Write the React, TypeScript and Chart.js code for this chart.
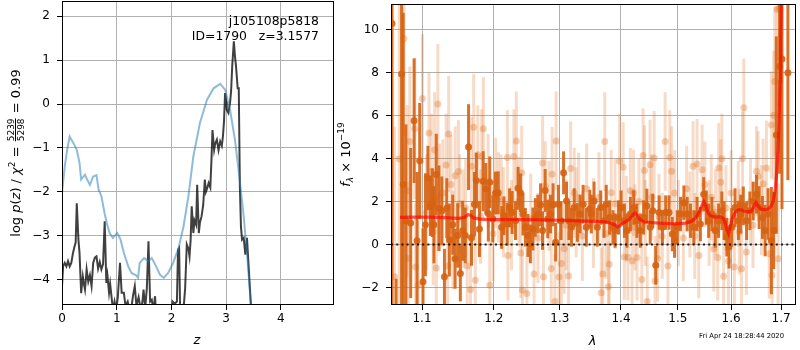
import React, { useEffect, useRef } from "react";
import { Chart, registerables } from "chart.js";

Chart.register(...registerables);

const FONT = "DejaVu Sans";

// ---------------- Left panel: redshift probability ----------------
const Z_TICKS = [0, 1, 2, 3, 4];
const LOGP_TICKS = [-4, -3, -2, -1, 0, 1, 2];

const PRIOR_Z = [0, 0.05, 0.1, 0.14, 0.17, 0.21, 0.27, 0.32, 0.35, 0.42, 0.46, 0.51, 0.57, 0.63, 0.67, 0.72, 0.78, 0.82, 0.87, 0.93, 1.01, 1.07, 1.13, 1.21, 1.27, 1.36, 1.39, 1.42, 1.5, 1.58, 1.64, 1.72, 1.79, 1.86, 1.94, 2.03, 2.13, 2.22, 2.31, 2.4, 2.52, 2.65, 2.77, 2.89, 2.98, 3.07, 3.16, 3.24, 3.32, 3.39, 3.45, 3.5];
const PRIOR_LOGP = [-2.03, -1.42, -1.0, -0.74, -0.81, -0.89, -1.04, -1.34, -1.72, -1.61, -1.72, -1.84, -1.65, -1.62, -1.95, -2.1, -2.5, -2.72, -2.94, -3.05, -2.94, -3.09, -3.39, -3.7, -3.85, -3.91, -3.96, -3.62, -3.51, -3.58, -3.51, -3.7, -3.89, -3.96, -3.85, -3.62, -3.28, -2.79, -2.1, -1.19, -0.43, 0.1, 0.36, 0.46, 0.33, -0.13, -0.81, -1.65, -2.56, -3.55, -4.55, -5.3];

const PZ_Z = [0, 0.02, 0.05, 0.08, 0.11, 0.14, 0.17, 0.2, 0.23, 0.25, 0.27, 0.3, 0.32, 0.35, 0.38, 0.4, 0.42, 0.45, 0.48, 0.51, 0.54, 0.57, 0.6, 0.63, 0.66, 0.69, 0.72, 0.75, 0.78, 0.81, 0.83, 0.86, 0.88, 0.91, 0.93, 0.96, 0.99, 1.02, 1.06, 1.09, 1.13, 1.16, 1.2, 1.25, 1.3, 1.33, 1.36, 1.4, 1.44, 1.47, 1.49, 1.52, 1.55, 1.58, 1.61, 1.64, 1.67, 1.7, 1.73, 1.85, 1.98, 2.02, 2.06, 2.1, 2.12, 2.14, 2.16, 2.2, 2.25, 2.28, 2.31, 2.33, 2.35, 2.37, 2.4, 2.42, 2.45, 2.47, 2.5, 2.52, 2.55, 2.58, 2.61, 2.63, 2.65, 2.68, 2.71, 2.73, 2.75, 2.78, 2.8, 2.83, 2.86, 2.89, 2.92, 2.94, 2.96, 2.98, 3.0, 3.01, 3.04, 3.07, 3.09, 3.11, 3.14, 3.16, 3.18, 3.21, 3.23, 3.25, 3.27, 3.29, 3.32, 3.35, 3.38, 3.41, 3.45, 3.48];
const PZ_LOGP = [-4.15, -3.7, -3.62, -3.7, -3.58, -3.7, -3.62, -3.4, -3.24, -3.15, -2.26, -3.09, -3.39, -4.31, -3.93, -4.1, -4.23, -3.77, -4.05, -3.9, -4.15, -3.62, -3.5, -3.47, -3.75, -3.6, -3.77, -3.65, -2.67, -4.08, -3.9, -4.3, -4.1, -4.45, -4.7, -4.5, -4.7, -4.4, -3.62, -4.3, -4.3, -4.6, -4.5, -4.8, -4.35, -4.15, -4.6, -4.4, -4.7, -4.5, -4.23, -4.65, -4.2, -3.13, -4.5, -4.46, -4.7, -4.38, -5.0, -5.2, -5.2, -4.5, -4.55, -4.5, -3.32, -3.28, -4.8, -5.0, -4.2, -3.2, -3.3, -3.47, -3.1, -2.33, -2.94, -2.65, -2.75, -1.84, -2.94, -2.7, -2.56, -2.3, -1.72, -2.0, -1.93, -1.8, -1.9, -1.3, -0.59, -1.04, -0.9, -0.81, -1.05, -0.85, -0.95, -0.74, -0.4, 0.25, 0.05, -0.13, -0.2, 0.02, 0.3, 0.86, 1.43, 1.1, 0.86, 0.36, 0.36, -1.88, -2.8, -3.09, -3.05, -3.43, -3.05, -3.7, -4.55, -5.2];

// ---------------- Right panel: spectrum ----------------
const LAM_TICKS = [1.1, 1.2, 1.3, 1.4, 1.5, 1.6, 1.7];
const FLUX_TICKS = [-2, 0, 2, 4, 6, 8, 10];

const MODEL_LAM = [1.071, 1.09, 1.11, 1.13, 1.15, 1.158, 1.163, 1.167, 1.171, 1.18, 1.192, 1.22, 1.245, 1.27, 1.299, 1.33, 1.357, 1.372, 1.38, 1.389, 1.394, 1.399, 1.405, 1.414, 1.42, 1.424, 1.428, 1.433, 1.44, 1.466, 1.496, 1.514, 1.525, 1.533, 1.54, 1.544, 1.548, 1.551, 1.555, 1.56, 1.568, 1.579, 1.584, 1.588, 1.592, 1.595, 1.598, 1.602, 1.608, 1.614, 1.619, 1.625, 1.634, 1.64, 1.645, 1.649, 1.653, 1.658, 1.666, 1.674, 1.68, 1.684, 1.688, 1.691, 1.694, 1.696, 1.698, 1.699, 1.7005];
const MODEL_FLUX = [1.26, 1.28, 1.28, 1.25, 1.22, 1.26, 1.4, 1.36, 1.24, 1.18, 1.16, 1.16, 1.16, 1.15, 1.13, 1.1, 1.08, 1.06, 1.02, 0.92, 0.82, 0.88, 1.02, 1.17, 1.36, 1.48, 1.35, 1.15, 1.05, 1.0, 0.96, 1.0, 1.08, 1.25, 1.55, 1.8, 2.0, 1.85, 1.52, 1.34, 1.28, 1.3, 1.24, 1.05, 0.65, 0.5, 0.8, 1.2, 1.5, 1.62, 1.62, 1.56, 1.52, 1.56, 1.78, 1.95, 1.8, 1.66, 1.62, 1.66, 1.8, 2.05, 2.6, 3.4, 4.5, 6.0, 7.6, 9.5, 11.6];

const SPEC_A_LAM = [1.0607, 1.066, 1.0731, 1.0752, 1.0787, 1.085, 1.0895, 1.0934, 1.0969, 1.1013, 1.1045, 1.1079, 1.1111, 1.1138, 1.116, 1.1192, 1.1227, 1.1267, 1.1303, 1.1335, 1.1371, 1.1417, 1.145, 1.1486, 1.1523, 1.1555, 1.1592, 1.1638, 1.168, 1.1722, 1.175, 1.1793, 1.1846, 1.1884, 1.1921, 1.1941, 1.1985, 1.2025, 1.2065, 1.2115, 1.2149, 1.2196, 1.2232, 1.227, 1.232, 1.2358, 1.2394, 1.2432, 1.2468, 1.2507, 1.2543, 1.2582, 1.2619, 1.2658, 1.27, 1.273, 1.2771, 1.2811, 1.2853, 1.2894, 1.2934, 1.2977, 1.3019, 1.3059, 1.3106, 1.3144, 1.3185, 1.3228, 1.328, 1.3324, 1.3372, 1.3424, 1.348, 1.3506, 1.3551, 1.3604, 1.366, 1.3715, 1.3752, 1.3808, 1.3864, 1.3901, 1.3958, 1.4002, 1.4059, 1.4103, 1.4161, 1.4218, 1.4273, 1.4332, 1.4389, 1.4446, 1.4505, 1.455, 1.4603, 1.4663, 1.4721, 1.4779, 1.484, 1.4899, 1.494, 1.499, 1.5048, 1.511, 1.517, 1.5231, 1.5292, 1.5353, 1.5415, 1.5477, 1.5526, 1.557, 1.5632, 1.5695, 1.5758, 1.5821, 1.5865, 1.5916, 1.596, 1.6012, 1.6076, 1.6141, 1.6186, 1.6238, 1.6303, 1.6368, 1.6434, 1.65, 1.6553, 1.6619, 1.6672, 1.6733, 1.68, 1.6847, 1.6901, 1.6969, 1.7017, 1.714];
const SPEC_A_FLUX = [10.3, -3.2, 7.95, 2.8, 1.1, 1.0, 5.77, 0.18, 3.9, -1.74, 0.92, 3.1, 1.8, 1.95, 0.92, 3.26, 1.69, 1.57, -1.5, 1.69, 0.21, 0.92, -0.66, 0.42, -1.35, 0.64, 0.42, 4.54, 0.31, 1.88, 2.98, 0.72, 2.95, 2.6, 1.44, 2.9, 1.2, 2.4, 2.41, 0.8, 1.34, 0.95, 1.72, 1.49, 1.11, 2.62, 2.41, 1.42, 0.8, 0.42, 0.03, 0.72, 1.26, 1.42, 1.85, 0.65, 2.52, 1.19, 1.42, 1.85, 0.11, 1.88, 1.11, 3.34, 2.03, 1.11, 0.8, 1.72, 1.03, 1.42, 1.88, 0.8, 1.65, 1.42, 2.03, 0.8, 1.72, 1.11, 1.88, 1.26, 0.8, 0.65, 1.26, 1.72, 1.11, 0.65, 1.42, 1.72, 1.11, 0.65, 1.26, 1.8, 0.8, 1.57, -0.97, 1.49, 0.8, 1.49, 1.49, 0.49, 0.18, 0.8, 1.42, 1.95, 1.42, 1.11, 0.8, 1.42, 0.95, 2.34, 1.72, 1.11, 1.42, 0.65, 1.11, 1.57, 1.11, 0.34, -0.12, 0.8, 1.72, 1.11, 1.42, 1.8, 1.11, 1.57, 2.03, 2.34, 1.72, 1.26, 0.65, 1.42, 0.18, 0.65, 5.1, 8.3, 8.65, 8.0];
const SPEC_A_ERR = [14, 1.6, 14, 8, 4.5, 3.5, 2.9, 3.2, 2.7, 2.5, 2.4, 1.5, 1.4, 1.6, 1.8, 1.9, 2.0, 1.6, 1.3, 1.4, 1.7, 1.4, 1.4, 1.5, 1.3, 1.4, 1.3, 2.0, 1.3, 1.5, 1.3, 1.3, 1.4, 1.2, 1.3, 1.2, 1.1, 1.0, 1.0, 1.0, 0.9, 1.0, 0.9, 1.0, 0.9, 1.0, 0.9, 1.0, 0.9, 1.0, 0.9, 1.0, 0.9, 0.9, 1.0, 0.9, 1.0, 0.9, 0.9, 1.0, 0.9, 0.9, 0.9, 1.0, 0.9, 0.9, 0.9, 0.9, 0.9, 0.9, 0.9, 0.9, 0.9, 0.9, 0.9, 0.9, 0.8, 0.8, 0.9, 0.8, 0.8, 0.8, 0.8, 0.8, 0.8, 0.8, 0.8, 0.8, 0.8, 0.8, 0.8, 0.8, 0.8, 0.8, 0.9, 0.8, 0.8, 0.8, 0.8, 0.8, 0.8, 0.8, 0.8, 0.8, 0.8, 0.8, 0.8, 0.8, 0.8, 0.8, 0.8, 0.8, 0.8, 0.8, 0.8, 0.9, 0.9, 0.9, 1.0, 0.9, 0.9, 0.9, 0.9, 0.9, 0.9, 0.9, 0.9, 0.9, 1.0, 1.0, 1.2, 1.2, 2.5, 1.8, 4.6, 5.0, 7.0, 5.0];

const SPEC_B_LAM = [1.064, 1.07, 1.0761, 1.0804, 1.0817, 1.0839, 1.0904, 1.0915, 1.0947, 1.1005, 1.106, 1.1093, 1.1125, 1.115, 1.1169, 1.1192, 1.1213, 1.1236, 1.128, 1.1326, 1.1347, 1.1361, 1.1393, 1.142, 1.1451, 1.1496, 1.1515, 1.156, 1.1597, 1.1619, 1.1666, 1.1679, 1.1711, 1.1734, 1.177, 1.181, 1.1825, 1.1849, 1.1918, 1.1941, 1.199, 1.2027, 1.2067, 1.2107, 1.214, 1.2199, 1.2208, 1.226, 1.2296, 1.2332, 1.237, 1.2399, 1.2413, 1.2423, 1.249, 1.255, 1.26, 1.266, 1.2732, 1.2745, 1.2772, 1.283, 1.2865, 1.2879, 1.2923, 1.2941, 1.2987, 1.3024, 1.3069, 1.31, 1.3138, 1.3171, 1.323, 1.326, 1.33, 1.336, 1.343, 1.354, 1.363, 1.367, 1.3695, 1.3727, 1.375, 1.3788, 1.3802, 1.3835, 1.39, 1.3976, 1.4037, 1.4057, 1.409, 1.4119, 1.416, 1.419, 1.4214, 1.424, 1.4275, 1.431, 1.4358, 1.4381, 1.4405, 1.442, 1.4453, 1.4503, 1.453, 1.4575, 1.459, 1.4635, 1.466, 1.472, 1.477, 1.482, 1.4853, 1.4887, 1.494, 1.501, 1.51, 1.516, 1.522, 1.5278, 1.531, 1.5353, 1.5385, 1.5447, 1.55, 1.558, 1.562, 1.5667, 1.57, 1.5742, 1.5761, 1.58, 1.5821, 1.5854, 1.59, 1.5948, 1.6, 1.6063, 1.614, 1.616, 1.6203, 1.6222, 1.6248, 1.63, 1.638, 1.643, 1.65, 1.6533, 1.66, 1.6633, 1.67, 1.6756, 1.68, 1.6815, 1.685, 1.687, 1.6918, 1.6938, 1.6965];
const SPEC_B_FLUX = [-1.5, 4.0, 9.6, 2.5, -0.65, 4.8, 5.4, -1.05, -1.9, 6.8, 1.5, 5.2, 3.4, 0.6, 4.4, -1.1, 6.55, 2.2, 2.4, 3.7, -1.0, 5.15, 2.8, 0.2, 3.2, 3.4, 1.9, 1.2, 1.7, -1.0, -2.1, 3.65, 5.46, -1.67, 4.18, 1.3, 4.1, 5.4, 2.95, -1.9, 0.5, 2.87, 2.2, 2.0, 1.5, 4.06, -0.51, 0.9, 4.1, 4.83, 2.0, -0.4, 3.34, -2.12, -2.28, 1.2, -1.38, 0.3, 3.8, -1.5, 2.72, 1.8, -1.12, 3.28, -2.66, 4.83, -1.51, -0.89, -0.2, 0.9, -1.47, 3.54, 2.41, 1.5, 2.18, 0.4, 2.6, 1.0, 2.2, -2.25, -1.38, 4.8, 0.5, -1.97, -0.92, 2.41, 1.9, 3.88, 3.6, -0.58, 1.2, -0.6, 2.5, -0.77, 2.41, 0.8, -0.61, 2.0, -1.63, 4.15, 3.45, 1.0, -2.66, 3.72, 2.2, 4.03, -1.7, -0.66, 1.3, 0.4, 4.8, -1.0, 4.06, 3.41, 2.4, 1.0, 0.3, 2.6, 1.4, 3.65, 0.4, 3.75, -0.51, 3.49, 2.8, 1.0, 2.2, -0.2, 1.5, -0.61, 3.57, 2.9, 4.0, -1.48, 1.7, -0.77, 2.4, -1.05, 1.9, 0.6, -1.13, 4.0, 6.37, -0.35, 2.0, 0.9, 3.41, 3.18, 1.6, 2.83, 3.57, -0.43, 5.57, -1.43, 6.03, 7.6, 10.95, -0.66, 11.0];
const SPEC_B_ERR = [7.0, 8.0, 4.5, 4.0, 3.6, 3.5, 3.3, 3.0, 3.0, 3.0, 2.7, 2.8, 2.7, 2.5, 2.7, 2.5, 2.8, 2.5, 2.5, 2.4, 2.5, 2.7, 2.3, 2.3, 2.3, 2.4, 2.3, 2.3, 2.3, 2.4, 2.3, 2.3, 2.5, 2.3, 2.3, 2.2, 2.2, 2.4, 2.2, 2.2, 2.2, 2.1, 2.1, 2.2, 2.1, 2.2, 2.1, 2.1, 2.2, 2.3, 2.1, 2.1, 2.2, 2.1, 2.1, 2.1, 2.2, 2.1, 2.2, 2.1, 2.1, 2.1, 2.2, 2.2, 2.2, 2.3, 2.1, 2.1, 2.1, 2.1, 2.1, 2.2, 2.1, 2.1, 2.1, 2.1, 2.1, 2.1, 2.1, 2.1, 2.1, 2.3, 2.1, 2.1, 2.1, 2.0, 2.1, 2.2, 2.1, 2.0, 2.0, 2.0, 2.0, 2.0, 2.0, 2.0, 2.0, 2.0, 2.1, 2.2, 2.1, 2.0, 2.1, 2.1, 2.0, 2.2, 2.1, 2.0, 2.0, 2.0, 2.3, 2.0, 2.2, 2.1, 2.0, 2.0, 2.0, 2.0, 2.0, 2.1, 2.0, 2.1, 2.0, 2.1, 2.0, 2.0, 2.0, 2.0, 2.0, 2.0, 2.1, 2.0, 2.1, 2.1, 2.0, 2.0, 2.0, 2.0, 2.0, 2.0, 2.0, 2.2, 2.3, 2.0, 2.0, 2.0, 2.1, 2.1, 2.1, 2.1, 2.2, 2.1, 2.5, 3.0, 3.0, 3.5, 4.5, 3.5, 4.5];

// axis ranges
const Z_MIN = 0;
const Z_MAX = 4.97;
const LOGP_MIN = -4.58;
const LOGP_MAX = 2.35;
const LAM_MIN = 1.0594;
const LAM_MAX = 1.7309;
const FLUX_MIN = -2.82;
const FLUX_MAX = 11.21;

const ORANGE_DARK = "rgba(214,98,18,0.9)";
const ORANGE_LIGHT_BAR = "rgba(222,110,30,0.25)";
const ORANGE_LIGHT_PT = "rgba(222,110,30,0.33)";

const pts = (xs: number[], ys: number[]) => xs.map((x, i) => ({ x, y: ys[i] }));
const fmt = (v: number, d: number) => (d ? v.toFixed(d) : String(Math.round(v))).replace("-", "\u2212");
const zeroPad = (s: any) => {
  s.paddingLeft = 0;
  s.paddingRight = 0;
  s.paddingTop = 0;
  s.paddingBottom = 0;
};

const gridCfg = { color: "#b0b0b0", lineWidth: 1, tickColor: "#000", tickLength: 5, drawTicks: true };
const tickFont = { family: FONT, size: 12 };

type Seg = { t: string; f: string; dy?: number } | { num: string; den: string; f: string; bar: number; nb: number; db: number };

function drawRich(ctx: CanvasRenderingContext2D, segs: Seg[], x: number, y: number, rot: number) {
  ctx.save();
  ctx.translate(x, y);
  ctx.rotate(rot);
  ctx.fillStyle = "#000";
  ctx.textBaseline = "alphabetic";
  ctx.textAlign = "left";
  const widths = segs.map((s: any) => {
    ctx.font = s.f;
    if (s.t !== undefined) return ctx.measureText(s.t).width;
    return Math.max(ctx.measureText(s.num).width, ctx.measureText(s.den).width) + 2;
  });
  const total = widths.reduce((a, b) => a + b, 0);
  let cx = -total / 2;
  segs.forEach((s: any, i) => {
    ctx.font = s.f;
    if (s.t !== undefined) {
      ctx.fillText(s.t, cx, s.dy || 0);
    } else {
      const w = widths[i];
      ctx.textAlign = "center";
      ctx.fillText(s.num, cx + w / 2, s.nb);
      ctx.fillText(s.den, cx + w / 2, s.db);
      ctx.textAlign = "left";
      ctx.fillRect(cx + 1, s.bar - 0.5, w - 2, 1);
    }
    cx += widths[i];
  });
  ctx.restore();
}

function drawFrame(ctx: CanvasRenderingContext2D, a: any) {
  ctx.save();
  ctx.strokeStyle = "#000";
  ctx.lineWidth = 1;
  ctx.strokeRect(a.left + 0.5, a.top + 0.5, a.right - a.left - 1, a.bottom - a.top - 1);
  ctx.restore();
}

const errorBarPlugin = {
  id: "errorBars",
  beforeDatasetDraw(chart: any, args: any) {
    const ds = chart.data.datasets[args.index];
    if (!ds.errors) return;
    const { ctx, chartArea: a, scales } = chart;
    ctx.save();
    ctx.beginPath();
    ctx.rect(a.left, a.top, a.right - a.left, a.bottom - a.top);
    ctx.clip();
    ctx.strokeStyle = ds.errColor;
    ctx.lineWidth = ds.errWidth;
    ds.data.forEach((p: any, i: number) => {
      const e = ds.errors[i];
      const x = scales.x.getPixelForValue(p.x);
      const y1 = scales.y.getPixelForValue(Math.max(p.y - e, FLUX_MIN - 5));
      const y2 = scales.y.getPixelForValue(Math.min(p.y + e, FLUX_MAX + 5));
      ctx.beginPath();
      ctx.moveTo(x, y1);
      ctx.lineTo(x, y2);
      ctx.stroke();
    });
    ctx.restore();
  },
};

const leftDecor = {
  id: "leftDecor",
  afterDatasetsDraw(chart: any) {
    const { ctx, chartArea: a } = chart;
    drawFrame(ctx, a);
    ctx.save();
    ctx.fillStyle = "#000";
    ctx.font = `12.4px ${FONT}`;
    ctx.textAlign = "right";
    ctx.textBaseline = "alphabetic";
    ctx.fillText("j105108p5818", a.right - 15, a.top + 23.5);
    ctx.fillText("ID=1790   z=3.1577", a.right - 15, a.top + 38.5);
    ctx.restore();
  },
  afterDraw(chart: any) {
    const { ctx, chartArea: a } = chart;
    const m = `13px ${FONT}`;
    const it = `italic 13px ${FONT}`;
    const sm = `9px ${FONT}`;
    drawRich(ctx, [{ t: "z", f: it }], (a.left + a.right) / 2 - 1, 344, 0);
    drawRich(
      ctx,
      [
        { t: "log ", f: m },
        { t: "p", f: it },
        { t: "(", f: m },
        { t: "z", f: it },
        { t: ") / ", f: m },
        { t: "\u03c7", f: it },
        { t: "2", f: sm, dy: -5.5 },
        { t: " = ", f: m },
        { num: "5239", den: "5298", f: sm, bar: -4.5, nb: -6.5, db: 4 },
        { t: " = 0.99", f: m },
      ],
      20,
      (a.top + a.bottom) / 2,
      -Math.PI / 2
    );
  },
};

const rightDecor = {
  id: "rightDecor",
  afterDatasetsDraw(chart: any) {
    drawFrame(chart.ctx, chart.chartArea);
  },
  afterDraw(chart: any) {
    const { ctx, chartArea: a } = chart;
    const m = `13px ${FONT}`;
    const it = `italic 13px ${FONT}`;
    const sm = `9px ${FONT}`;
    const smi = `italic 9px ${FONT}`;
    drawRich(ctx, [{ t: "\u03bb", f: it }], (a.left + a.right) / 2 - 1, 345, 0);
    drawRich(
      ctx,
      [
        { t: "f", f: it },
        { t: "\u03bb", f: smi, dy: 3 },
        { t: " \u00d7 10", f: m },
        { t: "\u221219", f: sm, dy: -6 },
      ],
      14,
      (a.top + a.bottom) / 2,
      -Math.PI / 2
    );
    ctx.save();
    ctx.fillStyle = "#000";
    ctx.font = `6.8px ${FONT}`;
    ctx.textAlign = "right";
    ctx.textBaseline = "alphabetic";
    ctx.fillText("Fri Apr 24 18:28:44 2020", a.right - 12, 337.5);
    ctx.restore();
  },
};

function axisCfg(min: number, max: number, ticks: number[], digits: number, fit: (s: any) => void, type = "linear") {
  return {
    type,
    bounds: "data",
    min,
    max,
    afterBuildTicks: (s: any) => {
      s.ticks = ticks.map((v) => ({ value: v }));
    },
    afterFit: (s: any) => {
      fit(s);
      zeroPad(s);
    },
    grid: gridCfg,
    border: { display: false },
    ticks: {
      font: tickFont,
      color: "#000",
      padding: 7,
      maxRotation: 0,
      minRotation: 0,
      autoSkip: false,
      callback: (v: any) => fmt(Number(v), digits),
    },
  };
}

function LeftPanel() {
  const ref = useRef<HTMLCanvasElement>(null);
  useEffect(() => {
    const xAxis: any = axisCfg(Z_MIN, Z_MAX, Z_TICKS, 0, (s) => (s.height = 45));
    xAxis.ticks.padding = 2;
    const chart = new Chart(ref.current as HTMLCanvasElement, {
      type: "scatter",
      data: {
        datasets: [
          {
            data: pts(PRIOR_Z, PRIOR_LOGP),
            showLine: true,
            borderColor: "rgba(31,119,180,0.5)",
            borderWidth: 2,
            pointRadius: 0,
            order: 1,
          } as any,
          {
            data: pts(PZ_Z, PZ_LOGP),
            showLine: true,
            borderColor: "rgba(0,0,0,0.75)",
            borderWidth: 2,
            pointRadius: 0,
            order: 2,
          } as any,
        ],
      },
      options: {
        responsive: false,
        animation: false,
        events: [],
        layout: { padding: { left: 0, right: 6, top: 1, bottom: 0 } },
        plugins: { legend: { display: false }, tooltip: { enabled: false } },
        scales: {
          x: xAxis,
          y: axisCfg(LOGP_MIN, LOGP_MAX, LOGP_TICKS, 0, (s) => (s.width = 62)) as any,
        },
      },
      plugins: [leftDecor],
    });
    return () => chart.destroy();
  }, []);
  return <canvas ref={ref} width={340} height={350} style={{ position: "absolute", left: 0, top: 0, width: 340, height: 350 }} />;
}

function RightPanel() {
  const ref = useRef<HTMLCanvasElement>(null);
  useEffect(() => {
    const xAxis: any = axisCfg(LAM_MIN, LAM_MAX, LAM_TICKS, 1, (s) => (s.height = 45), "logarithmic");
    xAxis.ticks.padding = 2;
    const chart = new Chart(ref.current as HTMLCanvasElement, {
      type: "scatter",
      data: {
        datasets: [
          {
            data: pts(SPEC_B_LAM, SPEC_B_FLUX),
            errors: SPEC_B_ERR,
            errColor: ORANGE_LIGHT_BAR,
            errWidth: 3,
            pointRadius: 3.5,
            pointBorderWidth: 0,
            pointBackgroundColor: ORANGE_LIGHT_PT,
            order: 4,
          } as any,
          {
            data: pts(SPEC_A_LAM, SPEC_A_FLUX),
            errors: SPEC_A_ERR,
            errColor: ORANGE_DARK,
            errWidth: 3,
            pointRadius: 3.5,
            pointBorderWidth: 0,
            pointBackgroundColor: ORANGE_DARK,
            order: 3,
          } as any,
          {
            data: pts(MODEL_LAM, MODEL_FLUX),
            showLine: true,
            borderColor: "rgba(255,0,0,0.65)",
            borderWidth: 3.2,
            pointRadius: 0,
            order: 2,
          } as any,
          {
            data: [
              { x: LAM_MIN, y: 0 },
              { x: LAM_MAX, y: 0 },
            ],
            showLine: true,
            borderColor: "rgba(0,0,0,0.85)",
            borderWidth: 2,
            borderDash: [2, 3.2],
            pointRadius: 0,
            order: 1,
          } as any,
        ],
      },
      options: {
        responsive: false,
        animation: false,
        events: [],
        layout: { padding: { left: 0, right: 0, top: 1, bottom: 0 } },
        plugins: { legend: { display: false }, tooltip: { enabled: false } },
        scales: {
          x: xAxis,
          y: axisCfg(FLUX_MIN, FLUX_MAX, FLUX_TICKS, 0, (s) => (s.width = 55)) as any,
        },
      },
      plugins: [errorBarPlugin, rightDecor],
    });
    return () => chart.destroy();
  }, []);
  return <canvas ref={ref} width={464} height={350} style={{ position: "absolute", left: 336, top: 0, width: 464, height: 350 }} />;
}

export default function App() {
  return (
    <div style={{ position: "fixed", left: 0, top: 0, width: 800, height: 350, background: "#fff", overflow: "hidden" }}>
      <LeftPanel />
      <RightPanel />
    </div>
  );
}
